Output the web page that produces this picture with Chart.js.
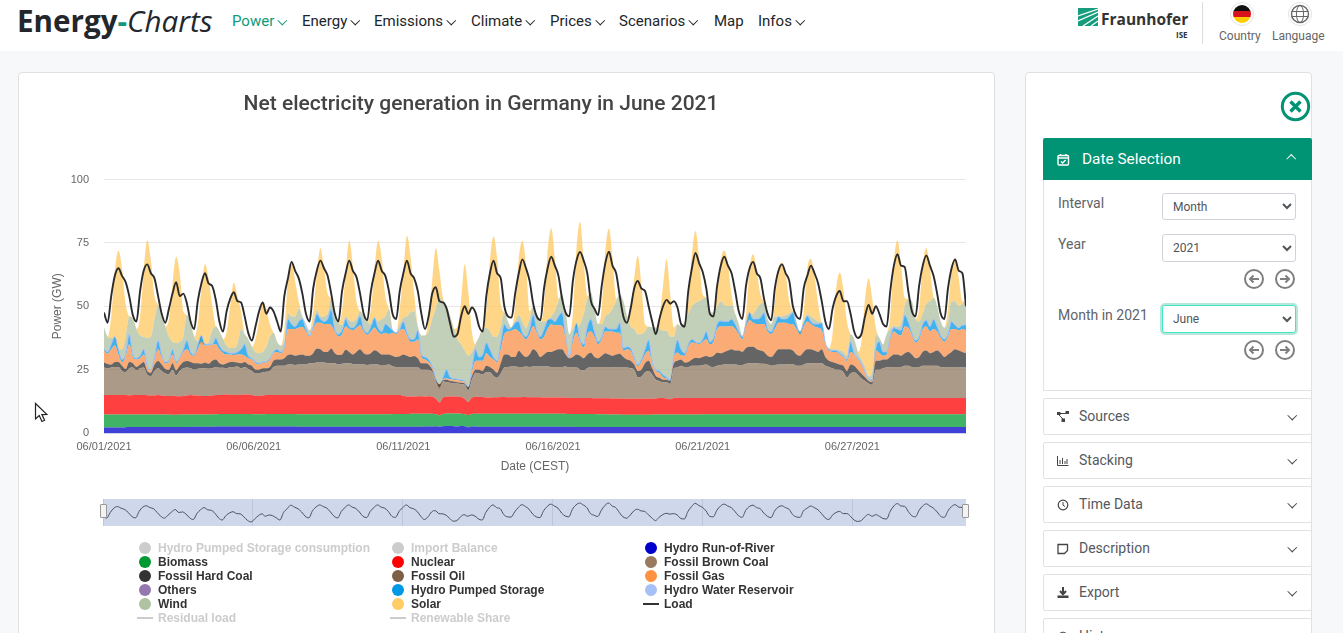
<!DOCTYPE html>
<html>
<head>
<meta charset="utf-8">
<title>Energy-Charts</title>
<script src="https://cdn.jsdelivr.net/npm/chart.js@4"></script>
<style>
html, body { margin: 0; padding: 0; width: 1343px; height: 633px; overflow: hidden; background: #f7f8fa; font-family: Roboto, sans-serif; color: #212529; }
.abs { position: absolute; white-space: nowrap; }
#header { position: absolute; left: 0; top: 0; width: 1343px; height: 51px; background: #fff; }
.chev { display: inline-block; width: 5.5px; height: 5.5px; border-right: 1.8px solid currentColor; border-bottom: 1.8px solid currentColor; transform: rotate(45deg); margin: 0 0 3px 5px; }
.chev.up { transform: rotate(225deg); margin-bottom: -2px; }
#card, #side { position: absolute; background: #fff; border: 1px solid #dfe0e2; border-radius: 4px; box-sizing: border-box; }
#card { left: 18px; top: 72px; width: 977px; height: 600px; }
#side { left: 1025px; top: 72px; width: 287px; height: 600px; }
#main { position: absolute; left: -4px; top: 73px; }
#nav { position: absolute; left: 103px; top: 499px; }
.handle { position: absolute; top: 504px; width: 7px; height: 14px; background: #f2f2f2; border: 1px solid #999; box-sizing: border-box; border-radius: 1px; }
.leg { position: absolute; font: bold 12px "Liberation Sans", Arial, sans-serif; color: #333; white-space: nowrap; line-height: 14px; }
.leg.off { color: #cccccc; }
.dot { position: absolute; width: 12px; height: 12px; border-radius: 50%; }
.dash { position: absolute; width: 16px; height: 2px; }
.lab { position: absolute; font-size: 14px; color: #5f6468; white-space: nowrap; }
select { position: absolute; left: 1162px; width: 134px; height: 27px; font: 12px Roboto, sans-serif; color: #50555a; background: #fff; border: 1px solid #ced4da; border-radius: 3px; padding-left: 6px; }
.arrow { position: absolute; }
.acc { position: absolute; left: 1043px; width: 269px; height: 37px; background: #fff; border: 1px solid #e0e3e5; border-radius: 2px; box-sizing: border-box; font-size: 14px; color: #54595e; line-height: 34px; padding-left: 35px; }
.acc svg { position: absolute; left: 13px; top: 12px; }
.acc .chev { position: absolute; left: 245px; top: 13px; margin: 0; color: #444; }
</style>
</head>
<body>
<div id="header">
  <div class="abs" style="left:17px;top:0;font:bold 29.6px/42px 'Open Sans',sans-serif;color:#23272b">Energy<span style="color:#0c9a78">-</span><span style="font-weight:400;font-style:italic">Charts</span></div>
  <div id="menu"></div>
  <svg class="abs" style="left:1078px;top:8px" width="20" height="18" viewBox="0 0 20 18"><rect width="20" height="18" fill="#179c7d"/><path d="M0 8 L20 1 M0 13 L20 4 M5 18 L20 8 M13 18 L20 13" stroke="#fff" stroke-width="1.2"/></svg>
  <div class="abs" style="left:1101px;top:9px;font:bold 15.5px/20px 'Open Sans',sans-serif;color:#333">Fraunhofer</div>
  <div class="abs" style="left:1176px;top:29px;font:bold 8px/12px 'Open Sans',sans-serif;color:#333">ISE</div>
  <div class="abs" style="left:1202px;top:2px;width:1px;height:42px;background:#ddd"></div>
  <svg class="abs" style="left:1229px;top:1px" width="26" height="26"><defs><clipPath id="fc"><circle cx="13" cy="13" r="9"/></clipPath></defs><circle cx="13" cy="13" r="11.5" fill="#fff" stroke="#e4e4e4"/><g clip-path="url(#fc)"><rect y="3" width="26" height="7" fill="#111"/><rect y="10" width="26" height="6" fill="#d8121c"/><rect y="16" width="26" height="7" fill="#fc0"/></g></svg>
  <svg class="abs" style="left:1287px;top:1px" width="26" height="26" fill="none" stroke="#666"><circle cx="13" cy="13" r="11.5" stroke="#e4e4e4"/><circle cx="13" cy="13" r="8.5" stroke-width="1.4"/><ellipse cx="13" cy="13" rx="3.6" ry="8.5"/><path d="M4.5 10.5H21.5M4.5 15.5H21.5"/></svg>
  <div class="abs" style="left:1219px;top:29px;font-size:12px;line-height:14px;color:#666">Country</div>
  <div class="abs" style="left:1272px;top:29px;font-size:12px;line-height:14px;color:#666">Language</div>
</div>

<div id="card"></div>
<canvas id="main" width="999" height="417" style="width:999px;height:417px"></canvas>
<canvas id="nav" width="863" height="27" style="width:863px;height:27px"></canvas>
<div class="handle" style="left:100px"></div>
<div class="handle" style="left:962px"></div>
<div id="legend"></div>

<svg class="abs" style="left:34px;top:402px" width="14" height="21"><path d="M1.5 1.5 V17 L5.2 13.6 L8 19.5 L10.6 18.3 L7.9 12.6 L12.8 12.4 Z" fill="#fff" stroke="#222" stroke-width="1.2"/></svg>

<div id="side"></div>
<svg class="abs" style="left:1280px;top:91px" width="31" height="31" fill="none" stroke="#009374"><circle cx="15.5" cy="15.5" r="13.2" stroke-width="3"/><path d="M10.5 10.5 L20.5 20.5 M20.5 10.5 L10.5 20.5" stroke-width="3.4"/></svg>
<div class="abs" style="left:1043px;top:138px;width:269px;height:42px;background:#009374;color:#fff;font-size:15.4px;line-height:42px;border-radius:2px 2px 0 0">
  <svg class="abs" style="left:14px;top:15px" width="13" height="13" fill="none" stroke="#fff" stroke-width="1.4"><rect x="1" y="2.5" width="10.5" height="9.5" rx="1"/><path d="M1 5H11.5M3.5 1V3M9 1V3M4 8.5L5.6 10L8.6 7"/></svg>
  <span style="position:absolute;left:39px">Date Selection</span>
  <span class="chev up" style="position:absolute;left:245px;top:18px;margin:0"></span>
</div>
<div class="abs" style="left:1043px;top:180px;width:269px;height:211px;border:1px solid #e0e3e5;border-top:0;box-sizing:border-box"></div>
<div class="lab" style="left:1058px;top:195px">Interval</div>
<select style="top:193px"><option>Month</option></select>
<div class="lab" style="left:1058px;top:236px">Year</div>
<select style="top:234px;height:28px"><option>2021</option></select>
<div class="lab" style="left:1058px;top:307px">Month in 2021</div>
<select style="top:305px;height:28px;border-color:#3fe8c4;box-shadow:0 0 0 2px #b8e6da"><option>June</option></select>
<div id="arrows"></div>
<div id="accordion"></div>

<script>
const menuItems = ["Power", "Energy", "Emissions", "Climate", "Prices", "Scenarios", "Map", "Infos"];
const menuLeft = [232, 302, 374, 471, 550, 619, 714, 758];
const menuChevron = [true, true, true, true, true, true, false, true];
const accordionItems = ["Sources", "Stacking", "Time Data", "Description", "Export", "History"];
const accordionTop = [398, 442, 486, 530, 574, 618];
const accordionIcons = [
  '<rect x="0" y="1" width="3.5" height="3" fill="#444"/><rect x="8.5" y="0" width="3.5" height="3" fill="#444"/><rect x="4.5" y="7.5" width="3.5" height="3.5" fill="#444"/><path d="M3 2.5H9M2 4L6 8" stroke="#444" fill="none"/>',
  '<path d="M0.5 1V10.5H11.5M3 9V5M5.5 9V3M8 9V6M10 9V4" stroke="#444" fill="none"/>',
  '<circle cx="6" cy="6" r="4.8" stroke="#444" stroke-width="1.2" fill="none"/><path d="M6 3V6.2L8 7.5" stroke="#444" fill="none"/>',
  '<path d="M1 1.5H10.5V7.5L7.5 10.5H1Z" stroke="#444" stroke-width="1.3" fill="none"/>',
  '<path d="M6 0V6M3 4L6 7.2L9 4" stroke="#444" stroke-width="2" fill="none"/><rect x="0.5" y="8.5" width="11" height="2.5" fill="#444"/>',
  '<circle cx="6" cy="6" r="4.8" stroke="#444" fill="none"/>'
];
const arrowSpots = [[1244, 269, -1], [1275, 269, 1], [1244, 340, -1], [1275, 340, 1]];

// one value every 3 hours for June 2021, top edge of each layer in GW
const tickHours = [0, 124.5, 249, 373.5, 498, 622.5];
const tickLabels = ["06/01/2021", "06/06/2021", "06/11/2021", "06/16/2021", "06/21/2021", "06/27/2021"];
const yTicks = [0, 25, 50, 75, 100];

const hydroTop = [
2.2,2.2,2.2,2.2,2.2,2.2,2.3,2.4, 2.4,2.4,2.4,2.4,2.4,2.4,2.4,2.4, 2.4,2.4,2.4,2.4,2.4,2.4,2.4,2.4, 2.5,2.5,2.5,2.5,2.5,2.5,2.5,2.6,
2.6,2.6,2.6,2.6,2.6,2.6,2.6,2.6, 2.6,2.6,2.6,2.6,2.6,2.6,2.6,2.6, 2.6,2.6,2.6,2.6,2.6,2.6,2.5,2.5, 2.5,2.5,2.5,2.5,2.5,2.5,2.5,2.5,
2.5,2.5,2.5,2.5,2.5,2.5,2.5,2.5, 2.5,2.5,2.5,2.5,2.5,2.5,2.5,2.5, 2.5,2.5,2.5,2.5,2.5,2.5,2.5,2.5, 2.5,2.6,2.6,2.6,2.7,2.5,2.7,2.8,
2.8,2.7,2.6,2.8,2.7,2.3,2.6,2.6, 2.5,2.5,2.5,2.5,2.5,2.5,2.5,2.5, 2.5,2.5,2.5,2.5,2.5,2.5,2.5,2.5, 2.5,2.5,2.5,2.5,2.5,2.5,2.5,2.5,
2.5,2.5,2.5,2.4,2.4,2.4,2.4,2.4, 2.4,2.4,2.4,2.4,2.4,2.4,2.4,2.4, 2.4,2.4,2.4,2.4,2.4,2.4,2.4,2.4, 2.4,2.4,2.4,2.4,2.4,2.4,2.4,2.4,
2.4,2.4,2.4,2.4,2.4,2.4,2.4,2.4, 2.4,2.4,2.4,2.4,2.4,2.4,2.4,2.4, 2.4,2.4,2.4,2.4,2.4,2.4,2.4,2.4, 2.4,2.4,2.4,2.4,2.4,2.4,2.4,2.4,
2.4,2.4,2.4,2.4,2.4,2.4,2.4,2.4, 2.4,2.4,2.4,2.4,2.4,2.4,2.4,2.4, 2.4,2.4,2.4,2.4,2.4,2.4,2.4,2.4, 2.4,2.4,2.4,2.4,2.4,2.4,2.4,2.4,
2.4,2.4,2.4,2.4,2.4,2.4,2.4,2.4, 2.4,2.4,2.4,2.4,2.4,2.4,2.4,2.4];
const biomassTop = [
7.3,7.3,7.3,7.3,7.3,7.3,7.3,7.3, 7.3,7.3,7.3,7.3,7.3,7.3,7.3,7.3, 7.3,7.3,7.3,7.2,7.2,7.3,7.3,7.3, 7.3,7.3,7.3,7.3,7.3,7.3,7.4,7.4,
7.5,7.5,7.5,7.5,7.5,7.5,7.5,7.5, 7.5,7.5,7.4,7.4,7.4,7.5,7.5,7.5, 7.5,7.5,7.5,7.5,7.5,7.5,7.4,7.4, 7.4,7.4,7.4,7.4,7.4,7.4,7.4,7.4,
7.4,7.4,7.4,7.4,7.4,7.4,7.4,7.4, 7.4,7.4,7.4,7.4,7.4,7.4,7.4,7.4, 7.5,7.5,7.5,7.5,7.5,7.6,7.6,7.6, 7.6,7.6,7.6,7.6,7.4,7,7.5,7.7,
7.7,7.7,7.7,7.6,7.4,7.1,7.5,7.6, 7.6,7.6,7.6,7.6,7.6,7.6,7.6,7.6, 7.6,7.6,7.6,7.6,7.6,7.6,7.6,7.6, 7.6,7.6,7.6,7.6,7.6,7.6,7.6,7.6,
7.6,7.5,7.5,7.5,7.5,7.5,7.5,7.5, 7.5,7.4,7.4,7.4,7.3,7.3,7.3,7.3, 7.2,7.2,7.2,7.2,7.2,7.2,7.2,7.2, 7.3,7.3,7.3,7.3,7.3,7.3,7.3,7.3,
7.3,7.3,7.3,7.3,7.3,7.3,7.4,7.4, 7.4,7.4,7.4,7.4,7.4,7.4,7.4,7.4, 7.4,7.4,7.4,7.4,7.4,7.4,7.4,7.4, 7.4,7.4,7.4,7.4,7.4,7.4,7.4,7.4,
7.4,7.4,7.4,7.4,7.4,7.4,7.4,7.4, 7.4,7.4,7.4,7.4,7.4,7.4,7.4,7.4, 7.4,7.4,7.4,7.4,7.4,7.4,7.4,7.4, 7.4,7.4,7.4,7.4,7.4,7.4,7.4,7.4,
7.4,7.4,7.4,7.4,7.4,7.4,7.4,7.4, 7.4,7.4,7.4,7.4,7.4,7.4,7.4,7.4];
const nuclearTop = [
15,15,15,15,15,15,15,14.8, 15,15,15,15,14.9,14.8,14.8,15, 14.8,14.7,14.6,14.7,14.5,14.5,14.6,14.8, 15,14.8,14.8,14.6,14.6,14.7,14.8,15,
15,15.1,15.2,15.1,15,15.1,15.1,15.2, 15.2,15,14.6,14.6,14.8,15,15,15, 15,15,15,15,15,15,15,15, 15,15,15,15,15,15,15,15,
15,15,15,15,15,15,15,15, 15,15,15,15,15,15,15,15, 15,15,15,14.6,14.4,14.4,14.4,14.5, 14.5,14.4,14.5,14.3,13.5,12,14,14.3,
14.4,14.4,14.3,14.2,13.5,12.2,14,14.2, 14.3,14.2,14,14,14.1,14.1,14.2,14.2, 14.1,14.1,14.1,14.1,14.2,14.2,14.1,14.1, 14.1,14.1,14,14,14,14,14,14,
13.9,13.9,13.8,13.8,13.8,13.8,13.8,13.8, 13.7,13.7,13.7,13.7,13.7,13.6,13.6,13.6, 13.5,13.5,13.5,13.5,13.5,13.5,13.5,13.5, 13.5,13.6,13.8,13.8,13.6,13.3,13.8,13.9,
13.8,13.8,13.8,13.8,13.8,13.8,13.8,13.8, 13.8,13.8,13.8,13.8,13.8,13.8,13.8,13.8, 13.8,13.8,13.8,13.8,13.8,13.8,13.8,13.8, 13.8,13.8,13.8,13.8,13.8,13.8,13.8,13.8,
13.8,13.8,13.8,13.8,13.8,13.8,13.8,13.8, 13.8,13.8,13.8,13.8,13.8,13.8,13.8,13.8, 13.8,13.8,13.8,13.8,13.8,13.8,13.8,13.8, 13.8,13.8,13.8,13.8,13.8,13.8,13.8,13.8,
13.8,13.8,13.8,13.8,13.8,13.8,13.8,13.8, 13.8,13.8,13.8,13.8,13.8,13.8,13.8,13.8];
const brownCoalTop = [
25.8,25.5,25.8,26,26,24.5,24,25.5, 25.8,24.7,25.5,25.8,23,22.5,24.5,25.5, 24.5,23.5,23.3,25,22.7,24.5,25.5,25.8, 25.5,25,25.3,25.5,25.5,25.3,25.5,26,
25.7,25.7,25.5,26,26,26.2,25.5,26, 25.2,24.5,23.5,23.5,24,24.2,24.5,26, 26.5,26.5,26.5,27,27,26.8,27,27, 27,27.5,27.5,27.8,27.8,27.8,27.5,27.5,
27.5,27,27.3,27.5,27.5,27.2,27,27.2, 27,26.8,27,27,27,26.5,26.8,27, 26.3,26,25.8,25.8,25.8,25.8,25.8,25.8, 25,25,25,24,20.5,18,20.3,20,
19.8,19.5,19.5,19.2,19,16.8,21,23.8, 23.5,23.2,24,24,22.5,21.8,23.5,25.8, 26,26.2,26.2,26,26,26.2,26,26.2, 26.2,26.2,26.2,26.2,26,26,26,26,
26.2,25.8,25.8,25.8,25,24.7,25.5,26, 26,26,26,26,26,26,25.8,25.8, 25.8,25.8,25.5,25,22,22.3,24,24.5, 23,21,20.5,20,20,19.3,25.5,25.8,
26.5,26,26,26.5,26.5,26.5,26.8,27, 26.2,26,26.5,26.8,27,27,27,27, 26.8,26.8,27.3,27.5,27.5,27.5,27.3,27.3, 27,26.5,26.8,27,27,27,27.2,27.2,
26.5,26.5,27,27.5,27.5,27.5,27.5,27.5, 26.5,26,25.5,25,25,24,22,23.5, 24,23,21.5,20.5,19.5,19,25,25, 25.5,25.8,26,26,26,26,26.5,26.5,
26,26,26,26.5,26.5,26.5,26.5,26.5, 26,25.8,25.8,26,26,26,25.8,25.8];
const hardCoalTop = [
27.8,27.2,27,28,28,26.5,25.2,28, 27.5,26,27,28,24.5,23.8,27,28.4, 27,25.2,24.9,27.5,24.7,26.5,28,28.4, 28,27.5,27.5,27.3,27.8,27.3,28.5,29,
27.5,27,27.5,28,28,27.8,27.5,28, 27,26.5,25,25,25.5,25.5,26,28.5, 29,29,29.5,30.8,31,30.5,30.8,31, 30.5,30.5,31.5,33.3,33,32,32,33.3,
31.5,30.8,31,32.8,32,31,32,33, 31.5,31,31.5,32.6,32,31,31,31, 30.5,30,30.3,31,30.5,30,30.4,29.5, 27.5,27.5,27,25,21,19.2,20.8,21,
20.5,20.3,20,19.8,19.5,18,22.5,25, 25,24.5,26.5,26,25,23.8,27.5,31, 31,30,30,32.4,31,30,31,33, 32,30,31,32,32,32.5,33,33,
31,29.5,30,31,30.5,29.5,31,31.7, 30,29.5,30.5,31.5,31,30.5,31,31.3, 30,29,28.5,27,24.5,25,27.5,28.5, 25.5,22.5,21.8,21,21,20.5,27.5,28.5,
29,27.8,28,29,29.7,29.5,30,30.4, 30,30.5,31.7,31.5,32,32.5,33,32.5, 32.5,32,33.5,34,34,33,32.5,32, 30.5,30,31.5,33,33,33,33,32.5,
31,30.5,32,33,33,32.5,32,33, 30,28.5,28,27.5,27,26.5,24.5,27, 26.5,25,23.5,22,20.5,20,28.5,28.5, 29,29,30,31,31,30.5,31.5,32,
31,29.5,30,32,32.5,31.5,32,32.5, 31.5,30,31,32,33,32.5,32,31.5];
const gasTop = [
32.4,31.3,33,34.5,31,28,30,35, 30,29,29.5,31,26,24.6,29,33, 30,27.5,28,31,27.4,29.5,32,33, 31,30.5,33,36,34.5,34.5,34.8,35,
33,31.5,31,31,30.8,31,31,30.5, 29.5,29,27.5,27,27.7,27.8,29,31.5, 32,31.5,33,41,41,41,41.5,41.8, 40,38,41,43.5,43.5,43,43,42.5,
40,38,39,42,41,40.5,41.5,42.5, 40,38.7,40,41.6,39.8,39,39.5,39, 39.5,39,40.5,41,38.5,36,36,37, 30,29,28,25.8,21,17.5,21.2,21.5,
21.2,21,20.8,20.5,20,17.5,24,28.4, 28.5,28.5,31.5,30,29,27.8,33,39, 40,40.3,41,40,38.5,37,39,42.2, 39.5,37,38,41,42.9,42.5,42.5,42.2,
37,29.5,36,39.5,36,33.7,39,40, 38,35,37,40,40,40,39.5,39.5, 32.4,33,32.4,29,26.4,28,31,32.4, 27,24.5,23.8,22,21.5,20.5,30,31.7,
30.7,30.5,34,35.7,35.5,35,36,37, 35,36,41,42,42,42,42.2,41, 39,37,42,44.5,43.5,43,43,42.9, 40,39,41,43.5,43.5,43.5,43,42.9,
41,39,42,44,43,42,41.5,40.5, 35,32.5,32,32,31,30,28.4,32, 31,29,27,23.5,21,20.5,32.5,31.5, 30.5,31,37,40,39,38.5,42,41.5,
38.5,35.7,37,41,42,40,41,40, 37.5,36,38,41,41,40.5,41,40.5];
const pumpedTop = [
33,32,35,38,33,29,31,39, 31,29.5,30.5,33,26.5,25,30,36.5, 31,28,28.5,33,28,30,33,36.5, 32,31,35,38.5,35,35,35,37.5,
34.5,32.5,32,31.5,31.5,32,33,35, 30.5,29.5,28,27.5,28,28.2,29.5,32, 33,32,34,45,43,42,44,45, 41,38.5,42,47,45,44,45,48.8,
41,39,40.5,45,42,41.5,43,46.2, 41,39.5,42,45.5,41.5,40,43,42, 40.5,39.5,41,44,39.5,37,37,40.5, 31,30,29,26.5,21.5,18,22,25,
22,21.5,21.2,21,20.5,18,25.5,33, 30,31,35.6,33,30,28.5,36,43, 41,41.5,43.5,44,39.5,38,41,46.8, 40.5,38,41,44.5,45,44,46,47.5,
38,30,38,43.3,37,35,42,44.9, 40,36,38,42,41,41,41,43.5, 33.5,34,33.5,30,27,29,33,36.7, 28,25,24.5,23,22,21,31,36.7,
33,31.5,35,37,36,35.5,37,40, 36,37.5,43,44.2,44,44,44.9,43, 40,38,43,47.5,45,45,45.5,47.5, 41,40,43,46,45,45,46,47.5,
42.5,40,43.5,46.2,44,43,43,43.5, 35.5,33,32.5,32.5,31.5,30.5,29,36, 31.5,29.5,27.5,24,21.5,21,33.5,36, 32,32,38,41.5,41,40.5,46.5,44,
39.5,36.5,38,43,44.5,42,44.9,42, 38.5,37,39,44,42.5,41.5,42.5,42.6];
const windTop = [
41.6,38,37.5,37,33,33,38,46, 45,41,38.5,38,37.5,38,45,50.5, 46,42,38,36,35.5,36,38,46.5, 43,38,36,35,35,36,40.5,42,
40,37,34.5,33.5,33.5,35,41,39, 37,34,32,31.5,32,34,38,39.5, 36,34.5,36,47,46,46,49,46, 43,40.5,43,48.5,46,46,47,52.8,
46,43.5,42.5,46,44.5,44,45,48, 46,44,43,45.5,44,45,46,48.8, 41,39.5,43,45.5,46,47.5,48,42, 38.5,38.5,40,45,49,53.5,52,50,
46,41,37,35,32.5,30.5,32,35, 38,41,41.5,40,38,38,42,47.5, 44,41.6,44,46.5,44,41.6,45,50, 46,44,44,43.5,46,48,52,54.7,
48,39,41,41.5,43,47,53,55.4, 49,43,43,46,47,49,52,54.7, 52,46,42,41,39,39,40,42, 41.6,41.6,41,40.3,40.3,38,38,43,
42,44,47,50,51.4,52,53,53.4, 47.5,47.5,50,52,50.5,50,50.5,47, 43,38.3,42,46,47,49,51,51.4, 45,43,46,46,46,46.5,47,48,
44,38.5,43,46.8,46,45,44,43, 35.5,33.5,33,33,32.5,32,30.5,39, 37,32,29,26,22.5,24,39,37.5, 35,39,41,42.2,42,43,50,52.8,
52,45,44,47,51,52,53.4,50, 44,41.5,44,52,52,50,51,52];
const solarTop = [
41.6,38,46,64,72,65,51,46, 45,41,46,64,76,68,54,50.5, 46,42,45,59,69.5,63,48,46.5, 43,38,43,57,66.6,61,50.5,42,
40,37,40,50.5,59.3,54,48,39, 37,34,37,44.5,52,49,43,39.5, 36,34.5,41,60,68,60,52,46, 43,40.5,48,62.5,73,65,55,52.8,
46,43.5,48,63,75.8,66,52,48, 46,44,49,64.5,75.8,69,54,48.8, 41,39.5,49,63.5,77.8,69.5,55,42.5, 38.5,38.5,45,60,73,64,53,50,
46,41,42,52,66.6,56,40,35, 38,41,48,68,77.6,69,51,47.5, 44,41.6,50,69,75.8,66.6,48,50, 46,44,50,72,80.8,69,53,54.7,
48,39,47,73,83.3,68,54,55.4, 49,43,49,72,80.7,69,53,54.7, 52,46,47,61,69.9,58.7,43,42, 41.6,41.6,46,58,68.6,54.7,41.6,43,
42,44,52,70.5,79.7,69,54.7,53.4, 47.5,47.5,55,68.5,72,66.6,54.7,47, 43,38.3,47,65,70.5,64,54.7,51.4, 45,43,51,65,67.2,62.6,52,48,
44,38.5,48,65,68.6,62,51,43, 35.5,33.5,39,57,63.3,56.7,44,39, 37,32,36,53,61,53,41.6,37.5, 35,39,46,68,76,66.6,53.4,52.8,
52,45,49,66.6,73,65,53.4,50, 44,41.5,49,64,69,61,52,52];
const load = [
47.5,43.5,54,62,65,62,59.5,54, 46.5,44,56,64,66.5,63,61,54, 47,43.5,49,55,59.5,54,55,51, 44,41,52,59,63,59,58,52.5,
44,40,48,53,55.5,52,51.5,46, 39.5,36.5,42,48,51.5,47,49.5,48, 44,40,54,61,67.5,64,61,55, 47,44,57,64,68,65,62,55,
47,44,56,63,68,64,61.5,55, 47,44.5,56,63,68,64,62,56, 47,45,56,63,68,63,61,56, 47,41,46,55,57.5,52,51.5,49,
43,38,39,46,50,47,49.5,47.5, 42,40,54,63,68,63,61,50, 46,45.5,55,63,68.5,65,60,51, 46,44.5,57,65,69.5,66,62,53,
47.5,46,60,68,71.4,68,63,52, 49,46.5,58,67,71.5,66,63,54, 46,43.5,49,57,60,57,56,50, 44,39,45,50,52.5,51,52,49.5,
43,42,56,65,71,67,63.5,57, 47,46,58,66,69.5,66,63,56, 48,45,58,65,67.5,63,61,53, 47,44.5,57,64,66.5,63,60,50,
46,45,57,62,66,63,59,52, 44,41,49,54,56,52,52,47, 40,37.5,39,46,50.5,47,50,47, 43,42,56,66,70.5,66,65.5,56,
48,46,58,66,70,66,62,55, 47,45,57,65,68.5,64,63,50];

const layerNames = ["Hydro Run-of-River", "Biomass", "Nuclear", "Fossil Brown Coal", "Fossil Hard Coal", "Fossil Gas", "Hydro Pumped Storage", "Wind", "Solar"];
const layerTops = [hydroTop, biomassTop, nuclearTop, brownCoalTop, hardCoalTop, gasTop, pumpedTop, windTop, solarTop];
const layerFills = ["rgba(0,0,204,.75)", "rgba(0,153,51,.75)", "rgba(255,0,0,.75)", "rgba(144,120,96,.75)", "rgba(49,49,49,.75)", "rgba(249,143,71,.75)", "rgba(0,153,230,.75)", "rgba(173,191,162,.75)", "rgba(255,200,95,.75)"];

const hours = [];
for (let i = 0; i < load.length; i++) hours.push(i * 3);

const legendNames = [
  ["Hydro Pumped Storage consumption", "Biomass", "Fossil Hard Coal", "Others", "Wind", "Residual load"],
  ["Import Balance", "Nuclear", "Fossil Oil", "Hydro Pumped Storage", "Solar", "Renewable Share"],
  ["Hydro Run-of-River", "Fossil Brown Coal", "Fossil Gas", "Hydro Water Reservoir", "Load"]
];
const legendColors = [
  ["#cccccc", "#009933", "#333333", "#9578b0", "#afc3a3", "#cccccc"],
  ["#cccccc", "#ff0000", "#7d6045", "#0099e6", "#ffcc66", "#cccccc"],
  ["#0000cc", "#997a5e", "#ff9142", "#a8c0f8", "#333333"]
];
const legendOff = ["Hydro Pumped Storage consumption", "Import Balance", "Residual load", "Renewable Share"];
const legendLines = ["Residual load", "Renewable Share", "Load"];
const legendX = [138, 391, 644];

// header and side panel
let menuHtml = "";
menuItems.forEach((name, i) => {
  const color = i === 0 ? "#0c9a78" : "#212529";
  menuHtml += `<div class="abs" style="left:${menuLeft[i]}px;top:11px;font-size:15px;line-height:20px;color:${color}">${name}${menuChevron[i] ? '<span class="chev"></span>' : ""}</div>`;
});
document.getElementById("menu").innerHTML = menuHtml;

let accHtml = "";
accordionItems.forEach((name, i) => {
  accHtml += `<div class="acc" style="top:${accordionTop[i]}px"><svg width="12" height="12">${accordionIcons[i]}</svg>${name}<span class="chev"></span></div>`;
});
document.getElementById("accordion").innerHTML = accHtml;

let arrowHtml = "";
arrowSpots.forEach(a => {
  const d = a[2] < 0 ? "M15 10H6M9.5 6.5L6 10L9.5 13.5" : "M5 10H14M10.5 6.5L14 10L10.5 13.5";
  arrowHtml += `<svg class="arrow" style="left:${a[0]}px;top:${a[1]}px" width="20" height="20" fill="none" stroke="#7f7f7f"><circle cx="10" cy="10" r="9" stroke-width="2"/><path d="${d}" stroke-width="2"/></svg>`;
});
document.getElementById("arrows").innerHTML = arrowHtml;

// legend
let legendHtml = "";
legendNames.forEach((col, c) => {
  col.forEach((name, r) => {
    const y = 541 + r * 14;
    const off = legendOff.includes(name);
    if (legendLines.includes(name)) {
      legendHtml += `<span class="dash" style="left:${legendX[c] - 1}px;top:${y + 6}px;background:${legendColors[c][r]}"></span>`;
    } else {
      legendHtml += `<span class="dot" style="left:${legendX[c] + 1}px;top:${y + 1}px;background:${legendColors[c][r]}"></span>`;
    }
    legendHtml += `<span class="leg${off ? " off" : ""}" style="left:${legendX[c] + 20}px;top:${y}px">${name}</span>`;
  });
});
document.getElementById("legend").innerHTML = legendHtml;

// main chart
const datasets = layerTops.map((tops, i) => ({
  label: layerNames[i],
  data: tops,
  backgroundColor: layerFills[i],
  borderWidth: layerNames[i] === "Hydro Pumped Storage" ? 1 : 0,
  borderColor: "#a8c0f8",
  pointRadius: 0,
  cubicInterpolationMode: "monotone",
  fill: i === 0 ? "origin" : "-1",
  order: 2
}));
datasets.push({
  label: "Load",
  data: load,
  borderColor: "#2b2b2b",
  borderWidth: 1.9,
  pointRadius: 0,
  cubicInterpolationMode: "monotone",
  fill: false,
  order: 1
});

const tickFont = { family: "'Liberation Sans', Arial, sans-serif", size: 11 };
const axisFont = { family: "'Liberation Sans', Arial, sans-serif", size: 12 };

new Chart(document.getElementById("main"), {
  type: "line",
  data: { labels: hours, datasets: datasets },
  options: {
    responsive: false,
    animation: false,
    events: [],
    layout: { padding: { top: 19.4, right: 29, left: 0, bottom: 16 } },
    plugins: {
      legend: { display: false },
      tooltip: { enabled: false },
      title: {
        display: true,
        text: "Net electricity generation in Germany in June 2021",
        color: "#444444",
        font: { family: "Roboto, sans-serif", size: 21, weight: "500" },
        padding: { top: 0, bottom: 61.9 }
      }
    },
    scales: {
      x: {
        type: "linear",
        min: 0,
        max: hours[hours.length - 1],
        grid: { display: false },
        border: { color: "#ccd6eb" },
        afterBuildTicks: scale => { scale.ticks = tickHours.map(v => ({ value: v })); },
        afterFit: scale => { scale.height = 41; },
        ticks: {
          autoSkip: false,
          maxRotation: 0,
          color: "#666666",
          font: tickFont,
          padding: -1,
          callback: (v, i) => tickLabels[i]
        },
        title: { display: true, text: "Date (CEST)", color: "#666666", font: axisFont, padding: { top: 5, bottom: 0 } }
      },
      y: {
        min: 0,
        max: 100,
        grid: { color: "#e6e6e6", drawTicks: false },
        border: { display: false },
        afterBuildTicks: scale => { scale.ticks = yTicks.map(v => ({ value: v })); },
        afterFit: scale => { scale.width = 108; },
        ticks: { color: "#666666", font: tickFont, padding: 15 },
        title: { display: true, text: "Power (GW)", color: "#666666", font: axisFont, padding: { top: 54, bottom: 0 } }
      }
    }
  }
});

// navigator strip under the chart
const navBackground = {
  id: "navBackground",
  beforeDraw(chart) {
    const c = chart.ctx;
    c.save();
    c.fillStyle = "#cfd8eb";
    c.fillRect(0, 0, chart.width, chart.height);
    c.restore();
  }
};
new Chart(document.getElementById("nav"), {
  type: "line",
  data: { labels: hours, datasets: [{ data: load, borderColor: "#4a5060", borderWidth: 1, pointRadius: 0, cubicInterpolationMode: "monotone", fill: false }] },
  plugins: [navBackground],
  options: {
    responsive: false,
    animation: false,
    events: [],
    layout: { padding: 0 },
    plugins: { legend: { display: false }, tooltip: { enabled: false } },
    scales: {
      x: {
        type: "linear",
        min: 0,
        max: hours[hours.length - 1],
        display: true,
        border: { display: false },
        grid: { color: "#bcc6dc", drawTicks: false },
        afterBuildTicks: scale => { scale.ticks = tickHours.map(v => ({ value: v })); },
        afterFit: scale => { scale.height = 0; },
        ticks: { display: false }
      },
      y: { display: false, min: 29, max: 79 }
    }
  }
});
</script>
</body>
</html>
